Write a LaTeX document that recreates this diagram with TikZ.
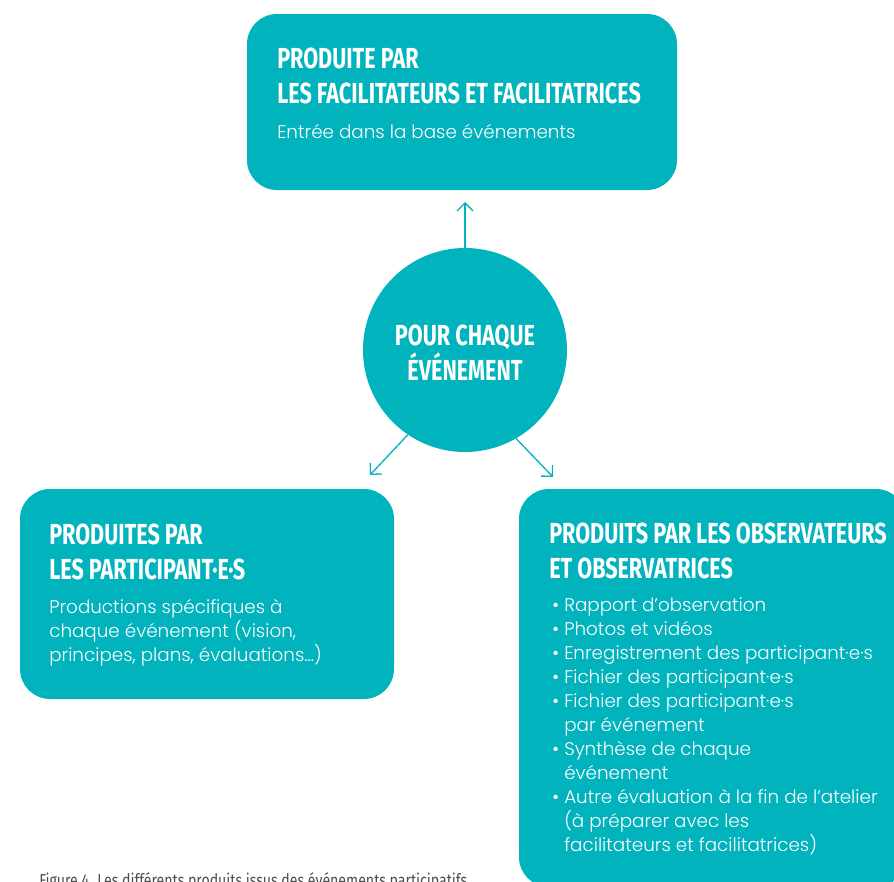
\documentclass[tikz,border=0pt]{standalone}
\usepackage{fontspec}
\setmainfont{Poppins}
\newfontfamily\headfont{Fira Sans}[FakeStretch=0.745]
\newfontfamily\bodyfont{Poppins Light}
\newfontfamily\capfont{Fira Sans}[FakeStretch=0.815]
\usetikzlibrary{arrows.meta}
\definecolor{tealc}{HTML}{00B3BD}
\definecolor{capgray}{HTML}{4D4D4D}
\begin{document}
\begin{tikzpicture}[x=0.75pt,y=-0.75pt,
  box/.style={fill=tealc, rounded corners=22.5pt, inner sep=0pt},
  head/.style={anchor=base west, inner sep=0pt, text=white, align=left,
    font=\headfont\bfseries\fontsize{21.75}{26.25}\selectfont},
  body/.style={anchor=base west, inner sep=0pt, text=white, align=left,
    font=\bodyfont\fontsize{13.75}{18}\selectfont},
  bul/.style={anchor=base west, inner sep=0pt, text=white,
    font=\bodyfont\fontsize{13.75}{18}\selectfont},
  arr/.style={draw=tealc, line width=1pt, -{Straight Barb[length=6pt,width=12pt]}}]
\useasboundingbox (0,0) rectangle (894,882);
\clip (0,0) rectangle (894,882);
% boxes
\node[box, minimum width=322.5pt, minimum height=132pt] (top) at (462,102) {};
\node[box, minimum width=280.5pt, minimum height=157.5pt] (left) at (207,594) {};
\node[box, minimum width=290.25pt, minimum height=298.5pt] (right) at (712.5,688) {};
\node[circle, fill=tealc, minimum size=153pt, inner sep=0pt] (circ) at (465,350) {};
% texts (anchored at the baseline of the last line)
\node[head] (toph) at (277,103) {PRODUITE PAR\\LES FACILITATEURS ET FACILITATRICES};
\node[body] (topb) at (277,138) {Entrée dans la base événements};
\node[head, anchor=base, align=center] (circt) at (465,380) {POUR CHAQUE\\ÉVÉNEMENT};
\node[head] (lefth) at (49,579) {PRODUITES PAR\\LES PARTICIPANT·E·S};
\node[body] (leftb) at (49,661) {Productions spécifiques à\\chaque événement (vision,\\principes, plans, évaluations…)};
\node[head] (righth) at (549,578) {PRODUITS PAR LES OBSERVATEURS\\ET OBSERVATRICES};
\node[body] (rightb) at (564,851) {Rapport d’observation\\Photos et vidéos\\Enregistrement des participant·e·s\\Fichier des participant·e·s\\Fichier des participant·e·s\\par événement\\Synthèse de chaque\\événement\\Autre évaluation à la fin de l’atelier\\(à préparer avec les\\facilitateurs et facilitatrices)};
\foreach \yy in {611,635,659,683,707,755,803}
  \node[bul] (b\yy) at (552,\yy) {•};
\node[anchor=base west, inner sep=0pt, text=capgray, font=\capfont\fontsize{13}{15}\selectfont] (cap) at (39,886) {Figure 4. Les différents produits issus des événements participatifs};
% arrows
\coordinate (ut) at (465,202);
\coordinate (lt) at (370,475);
\coordinate (rt) at (553,477);
\draw[arr] (circ.north) -- (ut);
\draw[arr] (circ.236.8) -- (lt);
\draw[arr] (circ.300.6) -- (rt);
\end{tikzpicture}
\end{document}
